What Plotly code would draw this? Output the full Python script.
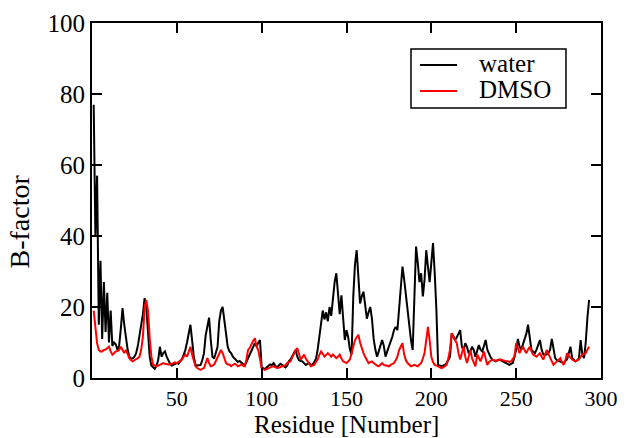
import plotly.graph_objects as go

# B-factor per residue, water simulation (residues 1..293)
water = [
    77, 40, 57, 15, 33, 11, 27, 13, 24, 10,
    19, 9, 10, 9.5, 8, 9, 14, 19.7, 15, 11,
    8, 6, 5.5, 5.5, 6, 7, 9, 12, 15, 18,
    22.5, 20, 13, 6, 3.5, 3, 2.6, 3.5, 5, 8.8,
    6, 7, 7.5, 6, 5, 4, 3.5, 3.8, 4, 4.2,
    4, 4.5, 5.3, 6.5, 7.9, 10, 13, 15, 10.7, 6,
    3.7, 3.5, 3.6, 3.7, 5, 7, 12, 15, 17, 10.7,
    6, 5.5, 7, 8.8, 16, 19, 20, 16, 11, 8.8,
    7.5, 7, 6, 5.5, 5, 4.5, 4.8, 4.3, 4, 3.5,
    4.5, 5.5, 6.5, 7.9, 8.5, 9.8, 9, 10, 10.7, 3,
    2.7, 2.5, 3, 3.5, 3.8, 3.6, 4.2, 3.5, 3, 3.5,
    4, 3.7, 3.2, 3, 3.5, 4.7, 5.2, 6, 7, 7.9,
    6, 5, 4.8, 4.7, 4.2, 3.7, 4, 4.2, 3.8, 3.7,
    4.5, 5.4, 8, 11.4, 15, 19, 16.5, 18.5, 16, 20,
    17.5, 22.5, 27, 29.5, 23, 18, 23.3, 16, 10.7, 13.5,
    11.5, 8, 6.6, 23, 32, 36, 27.5, 21, 23, 24.3,
    20.5, 16.7, 18.5, 20, 16.7, 11, 8, 6, 7.5, 8.8,
    10.7, 9, 6, 7.5, 8.8, 10, 11.6, 13.5, 14.4, 13.5,
    20, 27, 31.4, 27.7, 23, 18.5, 14.4, 10.7, 7.9, 23,
    37, 32.5, 27, 29.5, 23, 27.7, 36, 31.4, 27, 32.5,
    38, 29.5, 19, 3.7, 3.5, 3.3, 3.5, 3.7, 4.2, 5,
    6, 12.6, 11.5, 10.7, 11.5, 12.6, 13.5, 8.8, 7.9, 9.8,
    8.8, 7, 7.5, 8.8, 7.9, 6, 8, 9.3, 8, 7.5,
    9, 10.7, 8, 6.6, 5.8, 5.2, 5, 4.7, 5, 5.2,
    5, 4.7, 4.5, 4.2, 4, 3.7, 4, 4.2, 6, 8,
    11, 8.8, 8, 9.5, 10.7, 12.5, 15, 10.7, 7.9, 7.5,
    7, 8, 9.5, 10.7, 8, 6.6, 6.6, 6.6, 7, 8,
    11, 8, 5.6, 5, 4.8, 4.7, 4.5, 4.2, 4.8, 5.2,
    7, 8.8, 5.6, 5, 4.7, 5, 5.6, 10.7, 6.6, 5.6,
    10, 17, 22,
]

# B-factor per residue, DMSO simulation (residues 1..293)
dmso = [
    19, 15, 9.8, 7.9, 7.5, 7.5, 7.9, 8, 8.5, 8.8,
    7.5, 6.6, 7, 7.5, 7.6, 7.9, 8.8, 8, 7, 7.9,
    6.5, 5.6, 5, 4.7, 5, 5.2, 5.6, 6, 8, 11.6,
    19.9, 22, 19, 11.3, 6, 3.8, 3.5, 3.3, 3.5, 3.8,
    4, 4.2, 4, 3.8, 3.8, 3.8, 4, 4.2, 4.4, 4.2,
    4.5, 5, 5.2, 6, 6.6, 6, 7.5, 8.8, 6.6, 4.5,
    3.3, 2.8, 2.5, 2.3, 2.6, 2.8, 4.2, 5.6, 4.2, 3.3,
    3.5, 3.8, 4.8, 6, 7, 7.9, 7, 5.5, 4.2, 3.8,
    3.8, 3.3, 3.6, 4, 3.8, 3.3, 3.5, 3.8, 3.5, 3.3,
    5.2, 7.9, 8.5, 9.8, 10.5, 11.2, 8.8, 7.9, 5, 2.8,
    2.5, 2.3, 2.5, 2.8, 3, 3.2, 3.3, 3, 2.8, 2.9,
    3.1, 3.3, 3.3, 3.6, 4.2, 4.5, 4.7, 5.8, 7, 7.8,
    8.4, 6.5, 5.2, 5.8, 6.6, 5.5, 4.7, 4, 3.3, 3.5,
    3.7, 4.5, 5.2, 6.5, 7.5, 6.8, 6, 6.5, 7, 6.5,
    6, 6.6, 6.2, 5.6, 6, 6.6, 5.5, 4.7, 4.5, 4.2,
    4.7, 5.2, 7, 9, 10.7, 11.5, 12.2, 10, 8.4, 7,
    6, 5, 4.2, 4.5, 4.7, 4.2, 3.7, 3.5, 3.3, 3.8,
    4.2, 3.7, 3.5, 3.4, 3.3, 3.7, 4, 4.2, 5, 6,
    7.9, 8.8, 9.8, 6.6, 5, 4.2, 3.8, 3.3, 3.5, 3.7,
    3.5, 3.3, 3.8, 4.2, 5.5, 7, 10.7, 14.4, 10.7, 6,
    4.5, 3.7, 3.5, 3.3, 3, 2.8, 3, 3.3, 3.7, 5.5,
    7.9, 12.6, 11.5, 10.7, 9.8, 7, 5.2, 7, 8.8, 6,
    4.2, 6, 7.9, 5.5, 4.2, 3.3, 6.6, 5.5, 4.7, 6,
    7.5, 5.5, 3.7, 4.5, 4.8, 5.2, 5, 4.8, 5, 5.2,
    5.2, 5, 4.8, 4.7, 4.7, 4.5, 4.7, 5.2, 6, 9.8,
    8.5, 7, 8, 8.8, 7.8, 7, 8, 8.8, 7.5, 6.6,
    6.3, 6, 6.5, 7, 6, 5.2, 6.5, 7.9, 6.8, 5.6,
    4.5, 3.7, 4.2, 4.7, 5.2, 5.6, 4.5, 3.7, 5, 7,
    6.3, 5.6, 5.2, 4.9, 4.7, 5, 5.2, 6, 6.6, 6.8,
    7, 8, 8.8,
]

x_ticks = [50, 100, 150, 200, 250, 300]
y_ticks = [0, 20, 40, 60, 80, 100]

series_names = ["water", "DMSO"]
series_colors = ["black", "#ff0000"]

SERIF = "Liberation Serif, Times New Roman, serif"

fig = go.Figure()
for name, values, color in zip(series_names, [water, dmso], series_colors):
    fig.add_trace(go.Scatter(
        x=list(range(1, len(values) + 1)), y=values, name=name,
        mode="lines", line=dict(color=color, width=2), showlegend=False,
    ))

axis_common = dict(
    showline=True, linecolor="black", linewidth=2, mirror="ticks",
    ticks="inside", ticklen=10, tickwidth=2, tickcolor="black",
    showgrid=False, zeroline=False, automargin=False,
)

fig.update_xaxes(range=[0, 300], tickvals=x_ticks,
                 ticktext=[str(v) for v in x_ticks],
                 tickfont=dict(family=SERIF, size=22, color="black"),
                 **axis_common)
fig.update_yaxes(range=[0, 100], tickvals=y_ticks,
                 ticktext=[str(v) for v in y_ticks],
                 tickfont=dict(family=SERIF, size=25, color="black"),
                 **axis_common)

# axis titles
fig.add_annotation(text="Residue [Number]", xref="paper", yref="paper",
                   x=0.5, y=-0.132, xanchor="center", yanchor="middle",
                   showarrow=False,
                   font=dict(family=SERIF, size=25, color="black"))
fig.add_annotation(text="B-factor", xref="paper", yref="paper",
                   x=-0.142, y=0.44, xanchor="center", yanchor="middle",
                   textangle=-90, showarrow=False,
                   font=dict(family=SERIF, size=28, color="black"))

# boxed legend in the upper right of the plot area
fig.add_shape(type="rect", xref="paper", yref="paper",
              x0=0.6267, x1=0.9312, y0=0.7606, y1=0.9268,
              line=dict(color="black", width=1.5), fillcolor="white", layer="above")
legend_rows = [0.8817, 0.8085]
for name, color, ly in zip(series_names, series_colors, legend_rows):
    fig.add_shape(type="line", xref="paper", yref="paper",
                  x0=0.6444, x1=0.7171, y0=ly, y1=ly,
                  line=dict(color=color, width=2), layer="above")
    fig.add_annotation(text=name, xref="paper", yref="paper",
                       x=0.7564, y=ly + 0.004, xanchor="left", yanchor="middle",
                       showarrow=False,
                       font=dict(family=SERIF, size=25, color="black"))

fig.update_layout(
    width=629, height=438,
    margin=dict(l=92, r=28, t=23, b=60),
    paper_bgcolor="white", plot_bgcolor="white",
    showlegend=False,
)

fig.write_html("out.html")
